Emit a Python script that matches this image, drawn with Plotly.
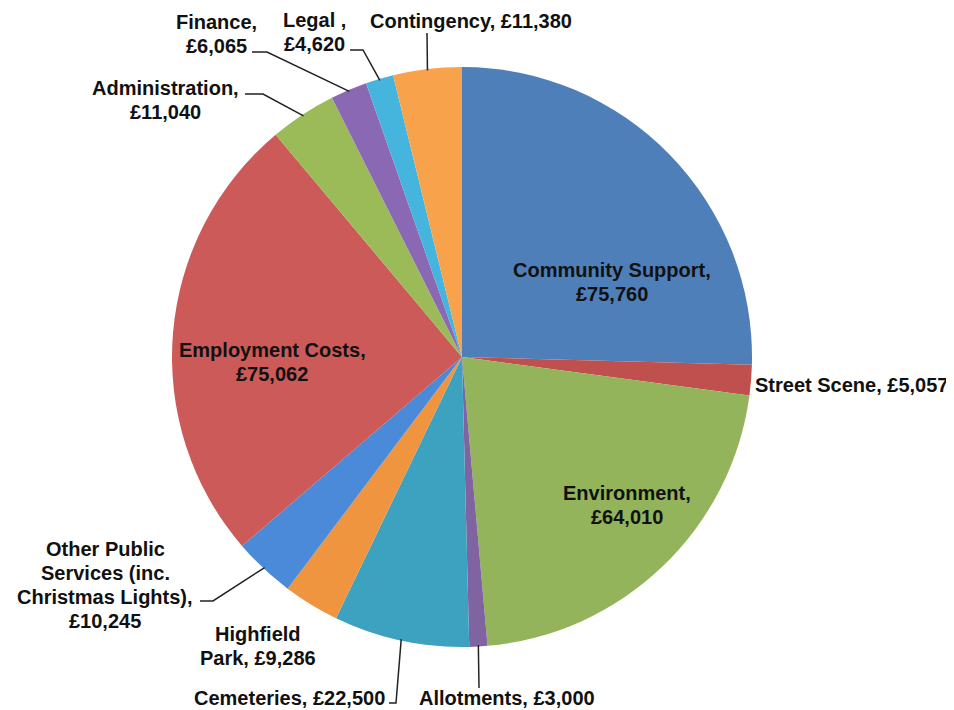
import math
import plotly.graph_objects as go

# ---- data ----
labels = ["Community Support", "Street Scene", "Environment", "Allotments", "Cemeteries",
          "Highfield Park", "Other Public Services (inc. Christmas Lights)", "Employment Costs",
          "Administration", "Finance", "Legal", "Contingency"]
values = [75760, 5057, 64010, 3000, 22500, 9286, 10245, 75062, 11040, 6065, 4620, 11380]
label_templates = ["Community Support,|{v}", "Street Scene, {v}", "Environment,|{v}",
                   "Allotments, {v}", "Cemeteries, {v}", "Highfield|Park, {v}",
                   "Other Public|Services (inc.|Christmas Lights),|{v}", "Employment Costs,|{v}",
                   "Administration,|{v}", "Finance,|{v}", "Legal ,|{v}", "Contingency, {v}"]

# ---- styles / layout ----
colors = ["#4f7fb8", "#c0504d", "#93b45a", "#8064a2", "#3ca2c0", "#ef9540",
          "#4a8ad8", "#cc5a58", "#9bbb59", "#8b68b3", "#45b5de", "#f9a24c"]
OFF = 8  # page body margin in the browser
W, H = 954 - OFF, 710 - OFF
CX, CY, R = 462, 357, 290
FONT = "Liberation Sans, Arial, Helvetica, sans-serif"
FS = 20
LINE_H = 24

# label placement (x, first-line y, anchor) in window pixels
label_pos = [(612, 270, "center"), (950, 385, "right"), (627, 493, "center"),
             (417, 698, "left"), (387, 698, "right"), (258, 634, "center"),
             (105, 549, "center"), (272, 350, "center"), (165, 88, "center"),
             (216, 22, "center"), (314, 20, "center"), (471, 21, "center")]
# leader line points from label side (pixels); final point is on the slice edge
leaders = {3: [(479, 688)], 4: [(389, 703), (396, 703)], 6: [(200, 601), (213, 601)],
           8: [(245, 94), (263, 94)], 9: [(252, 52), (267, 52)], 10: [(350, 50), (363, 50)],
           11: [(427, 33)]}


def px(x):
    return (x - OFF) / W


def py(y):
    return 1 - (y - OFF) / H


fig = go.Figure(go.Pie(
    labels=labels, values=values, sort=False, direction="clockwise", rotation=0,
    marker=dict(colors=colors, line=dict(width=0)), textinfo="none", hoverinfo="label+value",
    showlegend=False,
    domain=dict(x=[px(CX - R), px(CX + R)], y=[py(CY + R), py(CY - R)]),
))

annotations = []
shapes = []
total = sum(values)
cum = 0
for i, v in enumerate(values):
    mid = (cum + v / 2) / total * 2 * math.pi
    cum += v
    text = label_templates[i].format(v="£{:,}".format(v))
    x, y0, anchor = label_pos[i]
    for k, line in enumerate(text.split("|")):
        annotations.append(dict(
            x=px(x), y=py(y0 + k * LINE_H), xref="paper", yref="paper",
            text="<b>" + line + "</b>", showarrow=False, xanchor=anchor, yanchor="middle",
            font=dict(family=FONT, size=FS, color="#111111")))
    if i in leaders:
        ex = CX + R * 0.995 * math.sin(mid)
        ey = CY - R * 0.995 * math.cos(mid)
        pts = leaders[i] + [(ex, ey)]
        path = "M " + " L ".join("{:.5f} {:.5f}".format(px(a), py(b)) for a, b in pts)
        shapes.append(dict(type="path", path=path, xref="paper", yref="paper",
                           line=dict(color="#222222", width=1.5)))

fig.update_layout(
    width=W, height=H, margin=dict(l=0, r=0, t=0, b=0),
    paper_bgcolor="white", plot_bgcolor="white",
    annotations=annotations, shapes=shapes,
)

fig.write_html("out.html")
